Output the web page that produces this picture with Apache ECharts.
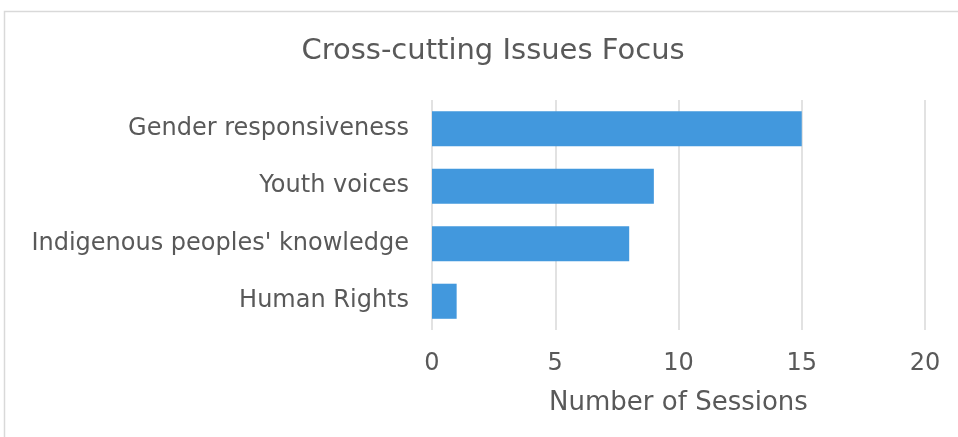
<!DOCTYPE html>
<html>
<head>
<meta charset="utf-8">
<script src="https://cdn.jsdelivr.net/npm/echarts@6/dist/echarts.min.js"></script>
<style>html,body{margin:0;padding:0;background:#fff}#c{width:958px;height:437px}</style>
</head>
<body>
<div id="c"></div>
<script>
const categories = ["Gender responsiveness", "Youth voices", "Indigenous peoples' knowledge", "Human Rights"];
const sessions = [15, 9, 8, 1];
const xTicks = [0, 5, 10, 15, 20];

const FONT = "DejaVu Sans";
const chart = echarts.init(document.getElementById('c'), null, {renderer: 'canvas'});
chart.setOption({
  animation: false,
  backgroundColor: '#fff',
  graphic: [{
    type: 'rect', shape: {x: 4.5, y: 11.5, width: 1000, height: 1000},
    style: {fill: 'none', stroke: '#d9d9d9', lineWidth: 1.5}, z: -1
  }],
  title: {
    text: 'Cross-cutting Issues Focus', left: 488, textAlign: 'center', top: 32,
    textStyle: {fontFamily: FONT, fontSize: 29, fontWeight: 'normal', color: '#595959'}
  },
  grid: {left: 432, right: 33, top: 100, bottom: 107, containLabel: false},
  xAxis: {
    type: 'value', min: xTicks[0], max: xTicks[xTicks.length - 1], interval: 5,
    name: 'Number of Sessions', nameLocation: 'middle', nameGap: 60,
    nameTextStyle: {fontFamily: FONT, fontSize: 26, color: '#595959'},
    axisLine: {show: false}, axisTick: {show: false},
    axisLabel: {fontFamily: FONT, fontSize: 24, color: '#595959', margin: 22},
    splitLine: {lineStyle: {color: '#d9d9d9', width: 1.5}}
  },
  yAxis: {
    type: 'category', data: categories, inverse: true,
    axisLine: {show: false}, axisTick: {show: false},
    axisLabel: {fontFamily: FONT, fontSize: 24, color: '#595959', margin: 23, padding: [2, 0, 0, 0]}
  },
  series: [{
    type: 'bar', data: sessions, barCategoryGap: '39%',
    itemStyle: {color: '#4298DD'}
  }]
});
</script>
</body>
</html>
